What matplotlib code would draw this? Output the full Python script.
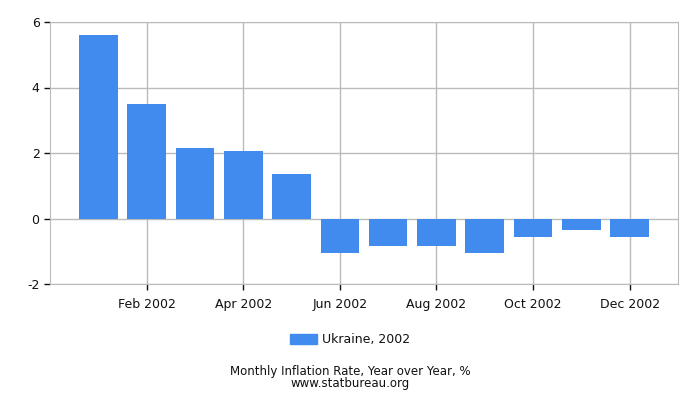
import numpy as np
import matplotlib.pyplot as plt
from matplotlib.patches import Patch

MONTHS = ['Jan 2002', 'Feb 2002', 'Mar 2002', 'Apr 2002', 'May 2002', 'Jun 2002',
          'Jul 2002', 'Aug 2002', 'Sep 2002', 'Oct 2002', 'Nov 2002', 'Dec 2002']
INFLATION = [5.6, 3.5, 2.15, 2.06, 1.36, -1.05, -0.85, -0.85, -1.05, -0.57, -0.36, -0.57]
SERIES_NAME = 'Ukraine, 2002'
CAPTION = 'Monthly Inflation Rate, Year over Year, %'
SOURCE = 'www.statbureau.org'

BAR_COLOR = '#418bee'
GRID_COLOR = '#bbbbbb'

plt.rcParams['axes.unicode_minus'] = False


def main():
    fig = plt.figure(figsize=(7, 4), dpi=100)
    ax = fig.add_axes([50 / 700, 1 - 284 / 400, 628 / 700, 262 / 400])

    x = np.arange(len(INFLATION))
    ax.bar(x, INFLATION, width=0.8, color=BAR_COLOR, zorder=3)

    ax.set_xlim(-1, 12)
    ax.set_ylim(-2, 6)
    ax.set_yticks([-2, 0, 2, 4, 6])
    ax.set_xticks(x[1::2])
    ax.set_xticklabels(MONTHS[1::2])

    ax.grid(True, color=GRID_COLOR, linewidth=1, zorder=0)
    for side in ['top', 'right', 'left', 'bottom']:
        ax.spines[side].set_color(GRID_COLOR)
    ax.tick_params(axis='both', colors='#111111', labelsize=9, length=4, width=1,
                   labelcolor='#111111')
    ax.tick_params(axis='x', pad=6)

    handle = Patch(color=BAR_COLOR, label=SERIES_NAME)
    fig.legend(handles=[handle], loc='center', bbox_to_anchor=(0.5, 1 - 340 / 400),
               frameon=False, fontsize=9, handlelength=2.2, handleheight=0.9,
               handletextpad=0.4, labelcolor='#111111')

    fig.text(0.5, 1 - 371 / 400, CAPTION, ha='center', va='center', fontsize=8.5,
             color='#111111')
    fig.text(0.5, 1 - 383 / 400, SOURCE, ha='center', va='center', fontsize=8.5,
             color='#111111')

    fig.savefig('out.png', dpi=100)


if __name__ == "__main__":
    main()
